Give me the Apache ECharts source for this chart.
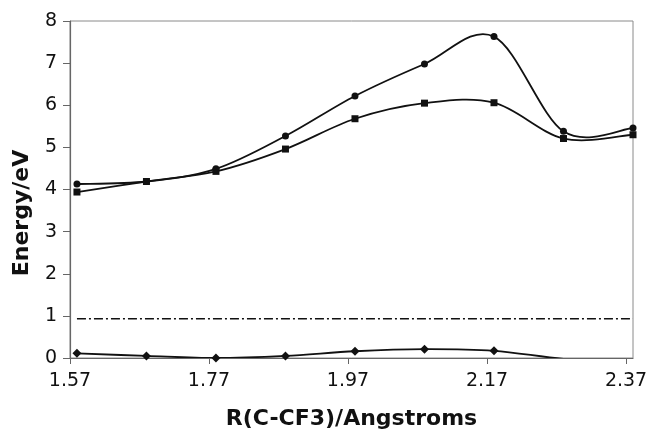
<!DOCTYPE html>
<html>
<head>
<meta charset="utf-8">
<script src="https://cdn.jsdelivr.net/npm/echarts@6/dist/echarts.min.js"></script>
<style>
  html, body { margin: 0; padding: 0; background: #fff; }
  #chart { width: 652px; height: 433px; }
</style>
</head>
<body>
<div id="chart"></div>
<script>
// bond length R(C-CF3) in Angstroms
const rValues = [1.58, 1.68, 1.78, 1.88, 1.98, 2.08, 2.18, 2.28, 2.38];
// energies in eV
const circleEnergy = [4.13, 4.19, 4.49, 5.27, 6.22, 6.98, 7.63, 5.38, 5.46];
const squareEnergy = [3.94, 4.19, 4.43, 4.96, 5.68, 6.05, 6.06, 5.21, 5.30];
const diamondEnergy = [0.11, 0.05, 0.0, 0.05, 0.16, 0.21, 0.17, -0.02, -0.1];
const dashEnergy = [0.93, 0.93, 0.93, 0.93, 0.93, 0.93, 0.93, 0.93, 0.93];
const xTickLabels = ["1.57", "1.77", "1.97", "2.17", "2.37"];
const xStart = 1.57;
const xEnd = 2.38;

// x axis is drawn as offset from 1.57 so ticks start at the left edge
function pairs(vals) {
  return rValues.map((r, i) => [+(r - xStart).toFixed(3), vals[i]]);
}

var font = "DejaVu Sans";
var lineCol = "#111";

// markers only, the curve itself is drawn by the custom series below
function markers(vals, symbol, size) {
  return {
    type: "line",
    data: pairs(vals),
    symbol: symbol,
    symbolSize: size,
    showSymbol: true,
    lineStyle: { width: 0, opacity: 0 },
    itemStyle: { color: lineCol },
    clip: true,
    z: 3,
  };
}

// excel-like smoothed curve (catmull-rom bezier), can overshoot
function smoothCurve(vals) {
  var data = pairs(vals);
  return {
    type: "custom",
    data: [data[0]],
    clip: true,
    z: 2,
    renderItem: function (params, api) {
      var pts = data.map((d) => api.coord(d));
      var path = "M" + pts[0][0] + " " + pts[0][1];
      for (var i = 0; i < pts.length - 1; i++) {
        var p0 = pts[Math.max(i - 1, 0)];
        var p1 = pts[i];
        var p2 = pts[i + 1];
        var p3 = pts[Math.min(i + 2, pts.length - 1)];
        var c1x = p1[0] + (p2[0] - p0[0]) / 6;
        var c1y = p1[1] + (p2[1] - p0[1]) / 6;
        var c2x = p2[0] - (p3[0] - p1[0]) / 6;
        var c2y = p2[1] - (p3[1] - p1[1]) / 6;
        path += " C" + c1x + " " + c1y + " " + c2x + " " + c2y + " " + p2[0] + " " + p2[1];
      }
      var cs = params.coordSys;
      return {
        type: "group",
        clipPath: { type: "rect", shape: { x: cs.x, y: cs.y, width: cs.width, height: cs.height } },
        children: [
          {
            type: "path",
            shape: { pathData: path },
            style: { fill: null, stroke: lineCol, lineWidth: 1.8 },
          },
        ],
      };
    },
  };
}

var myChart = echarts.init(document.getElementById("chart"));
var option = {
  animation: false,
  grid: {
    left: 70,
    right: 19,
    top: 21,
    bottom: 75,
    show: true,
    borderColor: "#8a8a8a",
    borderWidth: 1,
    outerBoundsMode: "none",
    containLabel: false,
  },
  xAxis: {
    type: "value",
    min: 0,
    max: +(xEnd - xStart).toFixed(2),
    interval: 0.2,
    name: "R(C-CF3)/Angstroms",
    nameLocation: "middle",
    nameGap: 50,
    nameTextStyle: { fontFamily: font, fontSize: 22, fontWeight: "bold", color: "#111" },
    axisLine: { show: true, lineStyle: { color: "#666", width: 1.2 } },
    axisTick: { show: true, inside: false, length: 6, lineStyle: { color: "#666" } },
    axisLabel: {
      fontFamily: font,
      fontSize: 19,
      color: "#111",
      margin: 14,
      showMaxLabel: false,
      formatter: function (v) {
        var i = Math.round(v / 0.2);
        return Math.abs(v - i * 0.2) < 1e-6 && xTickLabels[i] ? xTickLabels[i] : "";
      },
    },
    splitLine: { show: false },
  },
  yAxis: {
    type: "value",
    min: 0,
    max: 8,
    interval: 1,
    axisLine: { show: true, lineStyle: { color: "#666", width: 1.2 } },
    axisTick: { show: true, inside: false, length: 7, lineStyle: { color: "#666" } },
    axisLabel: { fontFamily: font, fontSize: 19, color: "#111", margin: 13 },
    splitLine: { show: false },
  },
  graphic: [
    {
      type: "text",
      x: 22,
      y: 213,
      rotation: Math.PI / 2,
      style: {
        text: "Energy/eV",
        font: "bold 22px DejaVu Sans",
        fill: "#111",
        align: "center",
        verticalAlign: "middle",
      },
    },
  ],
  series: [
    smoothCurve(circleEnergy),
    smoothCurve(squareEnergy),
    smoothCurve(diamondEnergy),
    markers(circleEnergy, "circle", 7),
    markers(squareEnergy, "rect", 7),
    markers(diamondEnergy, "diamond", 9),
    {
      type: "line",
      data: pairs(dashEnergy),
      showSymbol: false,
      symbol: "none",
      lineStyle: { color: lineCol, width: 1.5, type: [9, 3, 2, 3] },
    },
  ],
};
option && myChart.setOption(option);
</script>
</body>
</html>
